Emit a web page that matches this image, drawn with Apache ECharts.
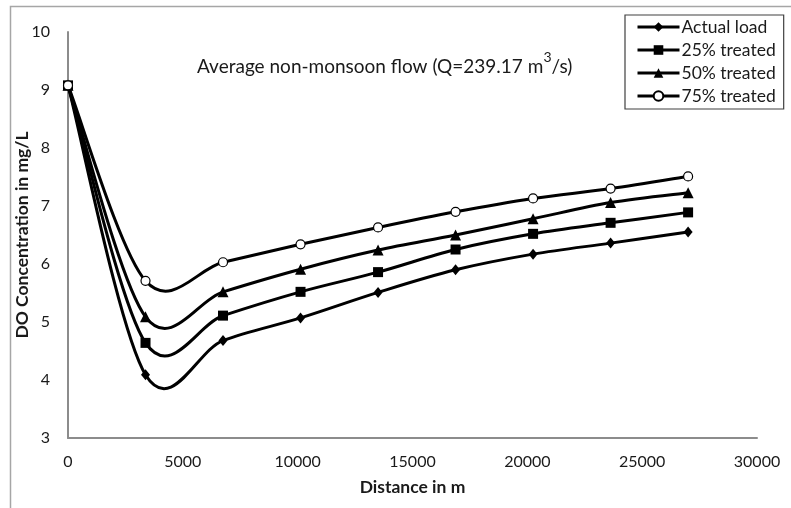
<!DOCTYPE html>
<html>
<head>
<meta charset="utf-8">
<script src="https://cdn.jsdelivr.net/npm/echarts@6/dist/echarts.min.js"></script>
<style>html,body{margin:0;padding:0;background:#fff;}#c{width:791px;height:508px;}</style>
</head>
<body>
<div id="c"></div>
<script>
var distance = [0, 3375, 6750, 10125, 13500, 16875, 20250, 23625, 27000];
var actualLoad = [9.08, 4.09, 4.68, 5.07, 5.51, 5.90, 6.17, 6.36, 6.55];
var treated25 = [9.08, 4.64, 5.11, 5.52, 5.86, 6.25, 6.52, 6.71, 6.89];
var treated50 = [9.08, 5.09, 5.52, 5.91, 6.24, 6.50, 6.78, 7.06, 7.23];
var treated75 = [9.08, 5.71, 6.03, 6.34, 6.63, 6.90, 7.13, 7.30, 7.51];
var seriesNames = ['Actual load', '25% treated', '50% treated', '75% treated'];
var xTicks = [0, 5000, 10000, 15000, 20000, 25000, 30000];
var yTicks = [3, 4, 5, 6, 7, 8, 9, 10];

function pairs(ys) { return distance.map(function (d, i) { return [d, ys[i]]; }); }

var FONT = 'Lato';
var TXT = '#1a1a1a';
var symbols = [
  { symbol: 'diamond', size: [9, 11], color: '#000', border: 0 },
  { symbol: 'rect', size: 10, color: '#000', border: 0 },
  { symbol: 'triangle', size: 11, color: '#000', border: 0 },
  { symbol: 'circle', size: 9, color: '#fff', border: 1.2 }
];
var allData = [actualLoad, treated25, treated50, treated75];

// Excel-style smoothed segment (Catmull-Rom, 1/6 tangents) built from the axis scales
function makeRender(ys) {
  return function (params, api) {
    var i = params.dataIndex, n = ys.length;
    if (i >= n - 1) return null;
    var p = function (j) { j = Math.max(0, Math.min(n - 1, j)); return api.coord([distance[j], ys[j]]); };
    var p0 = p(i - 1), p1 = p(i), p2 = p(i + 1), p3 = p(i + 2), k = 1 / 6;
    return {
      type: 'bezierCurve',
      shape: {
        x1: p1[0], y1: p1[1], x2: p2[0], y2: p2[1],
        cpx1: p1[0] + (p2[0] - p0[0]) * k, cpy1: p1[1] + (p2[1] - p0[1]) * k,
        cpx2: p2[0] - (p3[0] - p1[0]) * k, cpy2: p2[1] - (p3[1] - p1[1]) * k
      },
      style: { stroke: '#000', lineWidth: 3, fill: null, lineCap: 'round' }
    };
  };
}

var series = [];
allData.forEach(function (ys, i) {
  series.push({
    name: 'curve' + i, type: 'custom', data: pairs(ys),
    encode: { x: 0, y: 1 }, renderItem: makeRender(ys), z: 2, silent: true
  });
});
seriesNames.forEach(function (n, i) {
  series.push({
    name: n, type: 'line', data: pairs(allData[i]),
    symbol: symbols[i].symbol, symbolSize: symbols[i].size, showSymbol: true,
    lineStyle: { color: '#000', width: 3, opacity: 0 },
    itemStyle: { color: symbols[i].color, borderColor: '#000', borderWidth: symbols[i].border },
    z: 5
  });
});

var chart = echarts.init(document.getElementById('c'), null, { renderer: 'canvas' });
chart.setOption({
  backgroundColor: '#fff',
  animation: false,
  textStyle: { fontFamily: FONT },
  graphic: [
    { type: 'rect', shape: { x: 10.5, y: 6.5, width: 800, height: 600 }, style: { fill: null, stroke: '#a6a6a6', lineWidth: 1.5 }, silent: true },
    { type: 'text', left: 197, top: 50, style: {
        rich: {
          a: { fontFamily: FONT, fontSize: 19, fill: TXT, lineHeight: 26, verticalAlign: 'bottom' },
          s: { fontFamily: FONT, fontSize: 14, fill: TXT, lineHeight: 26, verticalAlign: 'top' }
        },
        text: '{a|Average non-monsoon flow (Q=239.17 m}{s|3}{a|/s)}'
      } }
  ],
  grid: { left: 68, right: 34, top: 32, bottom: 70, containLabel: false, outerBoundsMode: 'none' },
  legend: {
    orient: 'vertical', left: 625, top: 15,
    padding: [3, 8, 4, 11], itemGap: 5, itemWidth: 42, itemHeight: 12,
    borderColor: '#404040', borderWidth: 1.2, backgroundColor: '#fff',
    textStyle: { fontFamily: FONT, fontSize: 17.5, color: TXT, padding: [0, 0, 0, -3] },
    lineStyle: { color: '#000', width: 3, opacity: 1 },
    data: seriesNames
  },
  xAxis: {
    type: 'value', min: 0, max: 30000, interval: 5000,
    name: 'Distance in m', nameLocation: 'middle', nameGap: 40, nameMoveOverlap: false,
    nameTextStyle: { fontFamily: FONT, fontSize: 17.5, fontWeight: 'bold', color: TXT },
    axisLine: { show: true, lineStyle: { color: '#8c8c8c', width: 2 } },
    axisTick: { show: false }, splitLine: { show: false },
    axisLabel: { fontFamily: FONT, fontSize: 16, color: TXT, margin: 16,
      formatter: function (v) { return xTicks.indexOf(v) >= 0 ? String(v) : ''; } }
  },
  yAxis: {
    type: 'value', min: 3, max: 10, interval: 1,
    name: 'DO Concentration in mg/L', nameLocation: 'middle', nameGap: 37, nameMoveOverlap: false,
    nameTextStyle: { fontFamily: FONT, fontSize: 17.5, fontWeight: 'bold', color: TXT },
    axisLine: { show: true, lineStyle: { color: '#8c8c8c', width: 2 } },
    axisTick: { show: false }, splitLine: { show: false },
    axisLabel: { fontFamily: FONT, fontSize: 16, color: TXT, margin: 18,
      formatter: function (v) { return yTicks.indexOf(v) >= 0 ? String(v) : ''; } }
  },
  series: series
});
</script>
</body>
</html>
